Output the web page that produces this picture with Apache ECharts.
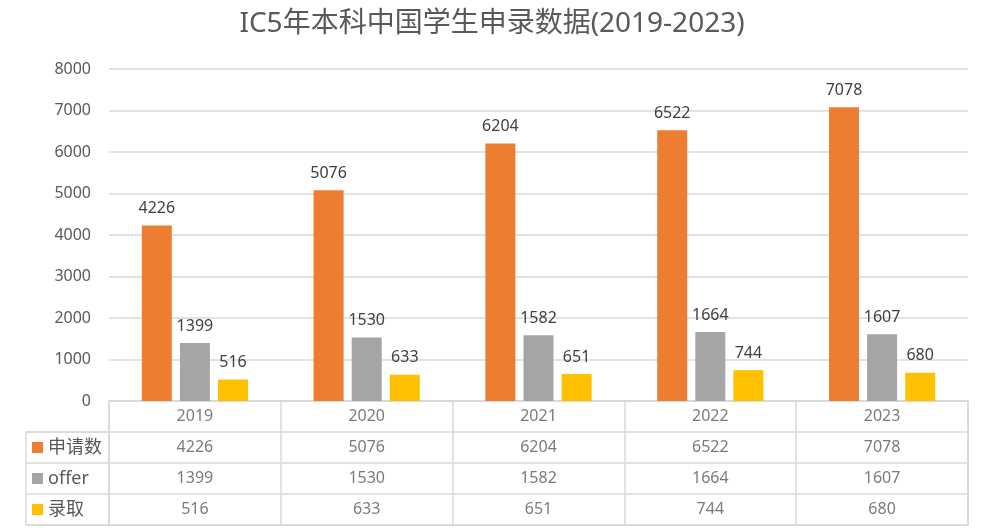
<!DOCTYPE html>
<html><head><meta charset="utf-8">
<script src="https://cdn.jsdelivr.net/npm/echarts@6/dist/echarts.min.js"></script>
<style>html,body{margin:0;padding:0;background:#fff}#c{width:984px;height:528px}</style>
</head><body><div id="c"></div>
<script>
const title = 'IC5年本科中国学生申录数据(2019-2023)';
const years = ['2019', '2020', '2021', '2022', '2023'];
const seriesNames = ['申请数', 'offer', '录取'];
const applications = [4226, 5076, 6204, 6522, 7078];
const offers = [1399, 1530, 1582, 1664, 1607];
const admitted = [516, 633, 651, 744, 680];
const yTicks = [0, 1000, 2000, 3000, 4000, 5000, 6000, 7000, 8000];

const colors = ['#ED7D31', '#A5A5A5', '#FFC000'];
const values = [applications, offers, admitted];
const font = "'Noto Sans', 'Noto Sans CJK SC', sans-serif";
const txt = '#595959';
const line = '#D9D9D9';

// layout
const L = 109, R = 16, plotTop = 69, plotBottomY = 401, tableBottomY = 525;
const tableH = tableBottomY - plotBottomY;
const rowH = tableH / 4;

// table cells from arrays
const cells = [];
years.forEach((y, i) => {
  cells.push([i, 0, y]);
  values.forEach((arr, r) => cells.push([i, r + 1, String(arr[i])]));
});

const chart = echarts.init(document.getElementById('c'), null, {renderer: 'canvas'});
chart.setOption({
  backgroundColor: '#fff',
  animation: false,
  textStyle: {fontFamily: font},
  title: {
    text: title, left: 'center', top: 5,
    textStyle: {fontSize: 28, fontWeight: 'normal', color: txt, fontFamily: font}
  },
  grid: [
    {left: L, right: R, top: plotTop, bottom: 528 - plotBottomY, containLabel: false},
    {left: L, right: R, top: plotBottomY, height: tableH, show: true, borderColor: line, borderWidth: 1.5},
    {left: 26, width: L - 26, top: plotBottomY + rowH, height: tableH - rowH, show: true, borderColor: line, borderWidth: 1.5}
  ],
  xAxis: [
    {gridIndex: 0, type: 'category', data: years, axisLine: {show: false}, axisTick: {show: false}, axisLabel: {show: false}},
    {gridIndex: 1, type: 'category', data: years, axisLine: {show: false}, axisTick: {show: false}, axisLabel: {show: false},
     splitLine: {show: true, lineStyle: {color: line, width: 1.5}}},
    {gridIndex: 2, type: 'value', min: 0, max: 1, show: false}
  ],
  yAxis: [
    {gridIndex: 0, type: 'value', min: yTicks[0], max: yTicks[yTicks.length - 1], interval: 1000,
     axisLine: {show: false}, axisTick: {show: false},
     axisLabel: {color: txt, fontSize: 16, margin: 18, formatter: v => String(v)},
     splitLine: {lineStyle: {color: line, width: 1.5}}},
    {gridIndex: 1, type: 'category', data: [''].concat(seriesNames), inverse: true,
     axisLine: {show: false}, axisTick: {show: false}, axisLabel: {show: false},
     splitLine: {show: true, lineStyle: {color: line, width: 1.5}}},
    {gridIndex: 2, type: 'category', data: seriesNames, inverse: true,
     axisLine: {show: false}, axisTick: {show: false},
     splitLine: {show: true, lineStyle: {color: line, width: 1.5}},
     axisLabel: {inside: true, margin: 6, align: 'left',
       formatter: (v, i) => '{s' + i + '|}{t|' + v + '}',
       rich: {
         s0: {width: 11, height: 11, backgroundColor: colors[0]},
         s1: {width: 11, height: 11, backgroundColor: colors[1]},
         s2: {width: 11, height: 11, backgroundColor: colors[2]},
         t: {fontSize: 18, color: txt, padding: [0, 0, 0, 5], fontFamily: font}
       }}}
  ],
  series: seriesNames.map((n, k) => ({
    name: n, type: 'bar', xAxisIndex: 0, yAxisIndex: 0,
    data: values[k], barWidth: 30, barGap: '27%',
    itemStyle: {color: colors[k]},
    label: {show: true, position: 'top', distance: 9, fontSize: 16, color: '#404040', fontFamily: font}
  })).concat([{
    type: 'scatter', xAxisIndex: 1, yAxisIndex: 1, symbolSize: 0, silent: true,
    data: cells,
    label: {show: true, position: 'inside', formatter: p => p.value[2], fontSize: 16, color: txt, fontFamily: font}
  }])
});
</script></body></html>
